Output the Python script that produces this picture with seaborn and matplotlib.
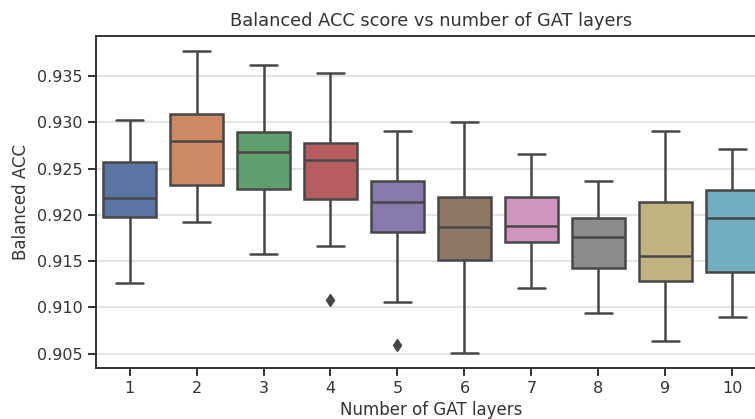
import numpy as np
import pandas as pd
import matplotlib
matplotlib.use("Agg")
import matplotlib.pyplot as plt
import seaborn as sns

# Values
layers = [1, 2, 3, 4, 5, 6, 7, 8, 9, 10]
whisker_lo = [0.91267, 0.91920, 0.91581, 0.91660, 0.91054, 0.90506, 0.91206, 0.90935, 0.90643, 0.90892]
q1 = [0.91974, 0.92328, 0.92281, 0.92169, 0.91816, 0.91509, 0.91708, 0.91426, 0.91289, 0.91379]
median = [0.92184, 0.92804, 0.92677, 0.92595, 0.92141, 0.91870, 0.91881, 0.91765, 0.91552, 0.91963]
q3 = [0.92577, 0.93089, 0.92894, 0.92779, 0.92371, 0.92195, 0.92195, 0.91963, 0.92141, 0.92274]
whisker_hi = [0.93028, 0.93770, 0.93623, 0.93529, 0.92912, 0.93002, 0.92663, 0.92368, 0.92909, 0.92710]
outliers = {4: 0.91076, 5: 0.90596}

rows = []
for i, n in enumerate(layers):
    first = outliers.get(n, whisker_lo[i])
    sample = [first, whisker_lo[i], q1[i], q1[i], median[i], q3[i], q3[i], whisker_hi[i], whisker_hi[i]]
    for v in sample:
        rows.append({"layers": str(n), "acc": v})
df = pd.DataFrame(rows)

sns.set_theme(style="ticks")
plt.rcParams['font.family'] = ['DejaVu Sans']

fig = plt.figure(figsize=(7.55, 4.19), dpi=100)
ax = fig.add_axes([96 / 755, (419 - 368.3) / 419, 670 / 755, 332.3 / 419])

sns.boxplot(data=df, x="layers", y="acc", hue="layers", palette="deep",
            order=[str(n) for n in layers], legend=False, ax=ax,
            linewidth=1.8, linecolor="#474747", width=0.8,
            flierprops=dict(marker="d", markerfacecolor="#474747",
                            markeredgecolor="#474747", markersize=6))

ax.yaxis.grid(True, color="#dcdcdc", linewidth=1.1)
ax.set_axisbelow(True)
for s in ax.spines.values():
    s.set_color("#333333")
    s.set_linewidth(1.4)
ax.tick_params(axis="both", labelsize=11.5, length=6, width=1.4, color="#333333",
               labelcolor="#333333")
ax.set_yticks([0.905, 0.910, 0.915, 0.920, 0.925, 0.930, 0.935])
ax.set_yticklabels(["0.905", "0.910", "0.915", "0.920", "0.925", "0.930", "0.935"])
ax.set_xlim(-0.5, 9.5)
ax.set_title("Balanced ACC score vs number of GAT layers", fontsize=12.8, color="#333333", pad=7)
ax.set_xlabel("Number of GAT layers", fontsize=12, color="#333333", labelpad=3)
ax.set_ylabel("Balanced ACC", fontsize=12, color="#333333", labelpad=5)

fig.savefig("out.png", dpi=100)
